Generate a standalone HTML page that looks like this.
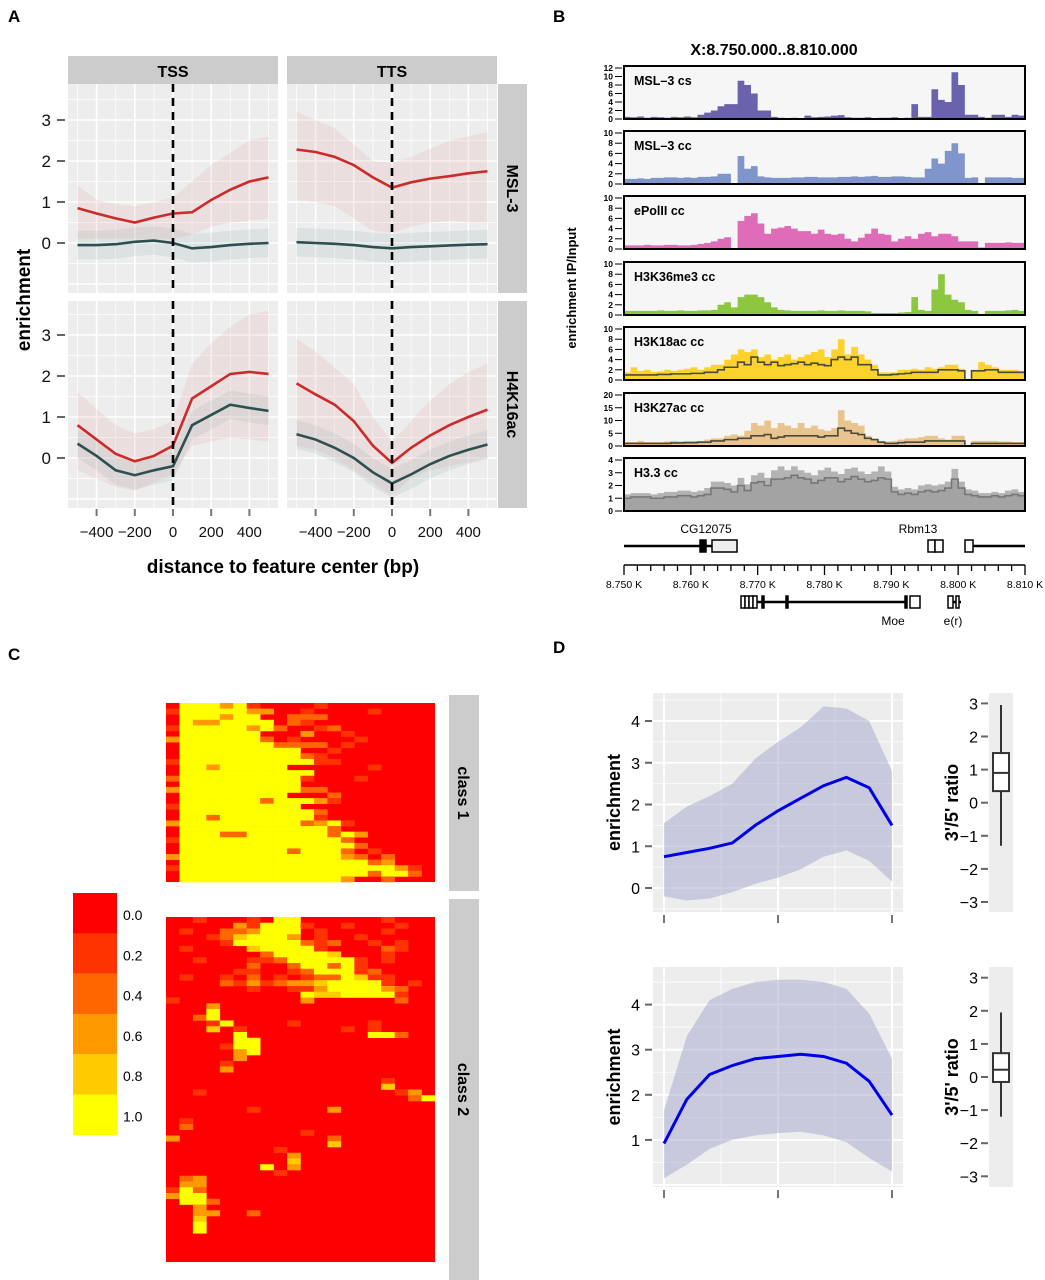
<!DOCTYPE html>
<html><head><meta charset="utf-8"><style>
html,body{margin:0;padding:0;background:#fff}
svg{display:block;font-family:"Liberation Sans",sans-serif}
</style></head><body>
<svg id="fig" xmlns="http://www.w3.org/2000/svg" width="1045" height="1280" viewBox="0 0 1045 1280">
<text x="8" y="22" font-size="17" font-weight="bold">A</text>
<text x="553" y="22" font-size="17" font-weight="bold">B</text>
<text x="8" y="660" font-size="17" font-weight="bold">C</text>
<text x="553" y="653" font-size="17" font-weight="bold">D</text>
</svg>
<script>
// ===== Panel A data (x = -500..500 step 100) =====
const aX=[-500,-400,-300,-200,-100,0,100,200,300,400,500];
const tssMslRed=[0.85,0.72,0.6,0.5,0.62,0.72,0.75,1.05,1.3,1.5,1.6];
const tssMslRedHi=[1.4,1.05,0.95,0.9,1.0,1.1,1.5,1.9,2.2,2.5,2.6];
const tssMslRedLo=[0.1,0.1,0.1,0.1,0.1,0.1,0.2,0.4,0.5,0.55,0.6];
const tssMslGreen=[-0.05,-0.05,-0.03,0.03,0.06,0,-0.13,-0.1,-0.05,-0.02,0];
const ttsMslRed=[2.28,2.22,2.1,1.9,1.6,1.35,1.48,1.57,1.63,1.7,1.75];
const ttsMslRedHi=[3.2,3.0,2.8,2.4,2.0,1.95,2.1,2.3,2.5,2.6,2.7];
const ttsMslRedLo=[1.05,1.0,0.9,0.6,0.3,0.25,0.4,0.5,0.55,0.5,0.5];
const ttsMslGreen=[0.02,0,-0.02,-0.05,-0.1,-0.13,-0.1,-0.08,-0.06,-0.04,-0.03];
const tssH4Red=[0.8,0.45,0.1,-0.08,0.05,0.3,1.45,1.75,2.05,2.1,2.05];
const tssH4RedHi=[1.6,1.2,0.8,0.6,0.7,0.9,2.3,2.8,3.2,3.5,3.6];
const tssH4RedLo=[-0.3,-0.5,-0.7,-0.8,-0.6,-0.4,0.3,0.4,0.5,0.45,0.4];
const tssH4Green=[0.35,0.05,-0.3,-0.42,-0.3,-0.2,0.8,1.05,1.3,1.22,1.15];
const ttsH4Red=[1.82,1.55,1.3,0.9,0.3,-0.12,0.25,0.55,0.8,1.0,1.18];
const ttsH4RedHi=[2.9,2.6,2.2,1.8,1.0,0.4,0.9,1.4,1.8,2.1,2.3];
const ttsH4RedLo=[0.3,0.2,0.0,-0.3,-0.6,-0.9,-0.5,-0.3,-0.2,-0.1,0];
const ttsH4Green=[0.58,0.45,0.25,0.0,-0.35,-0.62,-0.4,-0.15,0.05,0.2,0.33];
const aYTicks=[0,1,2,3];
const aXTicks=[-400,-200,0,200,400];
const aXTickLabels=["\u2212400","\u2212200","0","200","400"];

// ===== Panel B data (60 bins of 1 kb) =====
const bTrackNames=["MSL\u20133 cs","MSL\u20133 cc","ePolII cc","H3K36me3 cc","H3K18ac cc","H3K27ac cc","H3.3 cc"];
const bTrackMax=[12,10,10,10,10,20,4];
const bTrackTicks=[[0,2,4,6,8,10,12],[0,2,4,6,8,10],[0,2,4,6,8,10],[0,2,4,6,8,10],[0,2,4,6,8,10],[0,5,10,15,20],[0,1,2,3,4]];
const msl3cs=[0.5,0.4,0.6,0.3,0.5,0.4,0.3,0.5,0.4,0.6,0.4,1,1.5,2,3,3.5,3.5,9,8,6,2,2,0.5,0.3,0.2,0.3,0.2,0.8,0.4,0.5,0.6,0.8,0.9,0.4,0.3,0.3,0.4,0.2,0.3,0.3,0.4,0.2,0.3,3.5,0.5,0.5,7,4.5,4,11,8,1,1,0.5,0.3,1,1,0.5,1,0.8];
const msl3cc=[1,1,1.1,1,1.2,1.2,1.3,1.3,1.2,1.3,1.2,1.4,1.4,1.5,2,2,0,5.5,3,3.5,1.5,1.3,1.2,1.2,1.2,1.3,1.3,1.4,1.4,1.3,1.3,1.3,1.4,1.4,1.5,1.4,1.5,1.6,1.4,1.4,1.5,1.5,1.4,1.3,1.3,3,5,4,6.5,8,6,1.2,1.3,0,1.3,1.3,1.3,1.3,1.2,1.2];
const epol=[0.7,0.7,0.7,0.8,0.7,0.7,0.8,0.8,0.7,0.7,0.8,1,1.2,1.5,2,2.3,0,5.5,6.5,7,5,3,4,4.2,4.5,4,3.5,3.5,3,3.8,3,2.8,3,2,1.5,2.2,3,4,3,2.8,1.5,2,2.5,2,3,3.3,2.5,3,3,2.5,1.5,1.5,1.5,0.3,1.2,1.2,1.2,1.3,1.2,1.2];
const h3k36=[0.8,0.8,0.8,0.8,0.8,0.9,0.8,0.8,0.9,0.8,0.8,0.9,0.9,1,2,2.5,1.5,3.5,4,4,3.5,2.5,1.5,1,0.9,0.8,0.8,0.8,0.8,0.9,0.8,0.8,0.9,0.8,0.8,0.8,0.7,0.4,0.4,0.4,0.4,0.5,0.6,3.5,1,0.8,5,8,4,3,2.5,1,0.8,0,0.8,0.8,0.8,0.9,1,0.8];
const h3k18Peak=[1.5,2.5,1.8,2,1.6,1.7,2,1.8,2,2.2,2.5,2,2.5,3,3,4,5,6,5.5,6,4.5,5,4,4.5,5,4,4.5,5,5.5,6,4.5,6,8,5,6.5,5,4,3,1.5,1.5,1.5,2,2,2.2,2,2.5,2.2,2.5,3,3,2.2,0,2,3.5,3,2.5,2,2,2,1.8];
const h3k18Mean=[1,1,1,1,1,1.1,1.1,1.2,1.2,1.2,1.3,1.3,1.5,1.5,2,2.5,2.5,3.5,3,4.5,3.5,3,3.5,2.8,3,3.2,3.5,3,3.3,3,2.8,4,4.5,4,4.5,3,3,2,1,1,1.1,1.2,1.3,1.5,1.5,1.5,1.5,2,2,2,1.8,0,1.8,1.8,2,2,1.5,1.5,1.5,1.5];
const h3k27Peak=[1.5,1.5,2,1.5,1.5,1.5,1.8,2,1.8,2,2,2,2.5,3,3,4,4.5,4,6,9,8,10,7,9,8,7,9,7,8,6.5,6,7,14,10,9,8,4,3,2,1.8,2,2.5,3,3,3.5,4,4,3,2.5,4,4,0,2,2,2,2,1.8,1.8,1.5,1.5];
const h3k27Mean=[1,1,1,1,1,1,1,1.2,1.2,1.3,1.3,1.5,1.5,2,2,2.5,2.5,3,3,4,4,4.5,3,3.5,4,4,4,4,4,3.5,4,4,7,6,5,4.5,3,2.5,1.5,1,1,1.3,1.5,1.5,1.5,2,2,2,2,2,2,0,1,1,1,1,1,1,1,1];
const h33Peak=[1.3,1.4,1.4,1.4,1.3,1.4,1.5,1.5,1.6,1.6,1.5,1.6,1.8,2.3,2.3,2.2,2,2.6,2.1,2.8,3,2.6,3.2,3.5,3.2,3.5,3.2,3,2.8,3.2,3.4,3.1,2.9,3.3,3.4,3.1,2.9,3.1,3.5,3.1,1.9,1.7,1.8,1.7,2,2.1,2,2.1,2.3,3.3,2.3,1.7,1.6,1.4,1.4,1.5,1.4,1.6,1.7,1.5];
const h33Mean=[1,1.1,1.1,1.1,1,1,1.1,1.1,1.2,1.2,1.1,1.2,1.3,1.8,1.8,1.7,1.5,2,1.6,2.2,2.3,2,2.5,2.5,2.6,2.8,2.6,2.5,2.2,2.4,2.6,2.6,2.3,2.5,2.7,2.5,2.3,2.4,2.6,2.5,1.5,1.3,1.4,1.3,1.5,1.6,1.5,1.6,1.8,2.5,1.8,1.3,1.2,1.1,1.1,1.2,1.1,1.2,1.3,1.2];
const bAxisLabels=["8.750 K","8.760 K","8.770 K","8.780 K","8.790 K","8.800 K","8.810 K"];
const bAxisKb=[8750,8760,8770,8780,8790,8800,8810];

// ===== Panel C data (levels 0..5 => 0.0..1.0) =====
const legendLabels=["0.0","0.2","0.4","0.6","0.8","1.0"];
const class1Rows=[
"05553510000100000000","15555533001000010000","05553550022200000000","05335555021000000000",
"15555535200120000000","05555550003001000000","35555552010000100000","05555555222201000000",
"05555555550010000000","05555555552100000000","15555555555110000000","05535555500000010000",
"05555555555000000000","25555555551000100000","05555555550000000000",
"35555555552200000000","05555555500020000000","05555552555310000000","15555555550000000000",
"05555555555200000000","05525555555100000000","35555555552351000000","05555555555520000000",
"05552255555525300000","15555555555552000000","05555555555555200000","05555555525552010000",
"35555555555553202000","05555555555555523000","15555555555555555310","05555555555555525520",
"05555555555553002000"];
const class2Rows=[
"00100010550000001000","00000315551001000100","01002235550100001000","00012455530100100000",
"00001555552120010100","01000045555100002100","00000002555540001000","00100011255555101000",
"00000020025525100000","00000110012555120000","01001020101225411000","00002131233455551010",
"00000010011355553200","00000000005445555100","10000000003000000200","00030000000000000000",
"00050000000000000000","00250000000000000000","00015000010000010000","00040100000001010000",
"00000500000000055200","00000550000000000000","00001550000000000000","00000350000000000000",
"00000300000000000000","00001000000000000000","00003000000000000000","00000000000000000000",
"00000000000000001000","00000000000000004000","00100000000000000130","00000000000000000025",
"00000000000000000000","00000010000030000000","00000000000000000000","01000000000000000000",
"02000000000000000000","00000000001000000000","30000000000020000000","00000000000040000000",
"00000000100000000000","00000000030000000000","00000000040000000000","00000005030000000000",
"00000000100000000000","02300000000000000000","03300000000000000000","15200000000000000000",
"35500000000000000000","05520000000000000000","00300000000000000000","00330020000000000000",
"00400000000000000000","00500000000000000000","00500000000000000000","00000000000000000000",
"00000000000000000000","00000000000000000000","00000000000000000000","00000000000000000000"];

// ===== Panel D data (t = 0..1 step 0.1) =====
const dT=[0,0.1,0.2,0.3,0.4,0.5,0.6,0.7,0.8,0.9,1];
const d1Mean=[0.75,0.85,0.95,1.08,1.5,1.85,2.15,2.45,2.65,2.4,1.5];
const d1Hi=[1.55,1.95,2.2,2.5,3.1,3.5,3.85,4.35,4.3,4.0,2.8];
const d1Lo=[-0.2,-0.3,-0.25,-0.1,0.1,0.25,0.45,0.75,0.9,0.65,0.15];
const d2Mean=[0.92,1.9,2.45,2.65,2.8,2.85,2.9,2.85,2.7,2.3,1.55];
const d2Hi=[1.65,3.3,4.1,4.35,4.5,4.55,4.55,4.5,4.35,3.8,2.8];
const d2Lo=[0.15,0.45,0.8,1.0,1.1,1.15,1.18,1.1,0.95,0.6,0.3];
const box1=[-1.3,0.35,0.9,1.5,2.95];
const box2=[-1.2,-0.15,0.22,0.72,1.95];
const d1YTicks=[0,1,2,3,4];
const d2YTicks=[1,2,3,4];
const boxTicks=[-3,-2,-1,0,1,2,3];
const boxTickLabels=["\u22123","\u22122","\u22121","0","1","2","3"];

const NS='http://www.w3.org/2000/svg';
const svg=document.getElementById('fig');
function mk(tag,attrs,parent){const e=document.createElementNS(NS,tag);for(const k in attrs)e.setAttribute(k,attrs[k]);(parent||svg).appendChild(e);return e;}
function txt(s,attrs){const e=mk('text',attrs);e.textContent=s;return e;}
let el;

// ===== PANEL A =====
function facet(x0,y0,w,h,cx,zy,red,redHi,redLo,green,name,showY,showX){
  const xs=bp=>cx+bp*0.191, ys=v=>zy-v*41;
  el=mk('rect',{x:x0,y:y0,width:w,height:h,fill:'#ededed'});
  
  
  for(let b=-500;b<=500;b+=100){
    el=mk('line',{x1:xs(b),x2:xs(b),y1:y0,y2:y0+h,stroke:'#fff','stroke-width':(b%200===0)?1.6:0.7});
    
    
  }
  for(let v=-1;v<=3.5;v+=0.5){
    const y=ys(v); if(y<y0||y>y0+h) continue;
    el=mk('line',{x1:x0,x2:x0+w,y1:y,y2:y,stroke:'#fff','stroke-width':(v%1===0)?1.6:0.7});
    
    
  }
  const band=(hi,lo)=>{let d='';aX.forEach((b,i)=>d+=(i?'L':'M')+xs(b)+','+ys(hi[i]));for(let i=aX.length-1;i>=0;i--)d+='L'+xs(aX[i])+','+ys(lo[i]);return d+'Z';};
  const gHi=green.map(v=>v+0.35), gLo=green.map(v=>v-0.35);
  el=mk('path',{d:band(gHi,gLo),fill:'rgba(120,160,160,0.14)'});
  
  
  el=mk('path',{d:band(redHi,redLo),fill:'rgba(220,150,150,0.17)'});
  
  
  const line=arr=>aX.map((b,i)=>(i?'L':'M')+xs(b)+','+ys(arr[i])).join('');
  el=mk('path',{d:line(green),fill:'none',stroke:'#2e4f4f','stroke-width':2.6});
  
  
  el=mk('path',{d:line(red),fill:'none',stroke:'#cc2b2b','stroke-width':2.6});
  
  
  el=mk('line',{x1:cx,x2:cx,y1:y0,y2:y0+h,stroke:'#000','stroke-width':2.6,'stroke-dasharray':'8,6'});
  
  
  if(showY){aYTicks.forEach(v=>{
    el=mk('line',{x1:57,x2:65,y1:ys(v),y2:ys(v),stroke:'#666','stroke-width':2});
    
    
    el=txt(String(v),{x:51,y:ys(v)+6,'font-size':17,'text-anchor':'end',fill:'#111'});
    
    
  });}
  if(showX){aXTicks.forEach((b,i)=>{
    el=mk('line',{x1:xs(b),x2:xs(b),y1:y0+h+1,y2:y0+h+8,stroke:'#777','stroke-width':2});
    
    
    el=txt(aXTickLabels[i],{x:xs(b),y:y0+h+29,'font-size':15,'text-anchor':'middle',fill:'#111'});
    
    
  });}
}
facet(68,84,210,209,173,243,tssMslRed,tssMslRedHi,tssMslRedLo,tssMslGreen,'tss-msl3',true,false);
facet(287,84,210,209,392,243,ttsMslRed,ttsMslRedHi,ttsMslRedLo,ttsMslGreen,'tts-msl3',false,false);
facet(68,301,210,207,173,458,tssH4Red,tssH4RedHi,tssH4RedLo,tssH4Green,'tss-h4k16ac',true,true);
facet(287,301,210,207,392,458,ttsH4Red,ttsH4RedHi,ttsH4RedLo,ttsH4Green,'tts-h4k16ac',false,true);
[[68,'TSS'],[287,'TTS']].forEach(([x,t])=>{
  el=mk('rect',{x:x,y:56,width:210,height:28,fill:'#cccccc'});
  
  
  el=txt(t,{x:x+105,y:77,'font-size':16,'font-weight':'bold','text-anchor':'middle'});
  
  
});
[[84,209,'MSL-3'],[301,207,'H4K16ac']].forEach(([y,h,t])=>{
  el=mk('rect',{x:498,y:y,width:29,height:h,fill:'#cccccc'});
  
  
  el=txt(t,{x:0,y:0,'font-size':16,'font-weight':'bold','text-anchor':'middle',transform:`translate(507,${y+h/2}) rotate(90)`});
  
  
});
el=txt('enrichment',{x:0,y:0,'font-size':19,'font-weight':'bold','text-anchor':'middle',transform:'translate(30,300) rotate(-90)'});


el=txt('distance to feature center (bp)',{x:283,y:573,'font-size':19,'font-weight':'bold','text-anchor':'middle'});



// ===== PANEL B =====
el=txt('X:8.750.000..8.810.000',{x:774,y:55,'font-size':16,'font-weight':'bold','text-anchor':'middle'});


el=txt('enrichment IP/Input',{x:0,y:0,'font-size':13,'font-weight':'bold','text-anchor':'middle',transform:'translate(576,288) rotate(-90)'});


const trackData=[[msl3cs,null],[msl3cc,null],[epol,null],[h3k36,null],[h3k18Peak,h3k18Mean],[h3k27Peak,h3k27Mean],[h33Peak,h33Mean]];
const trackFill=['#6a62ad','#7f95cc','#df6cb8','#8dc63f','#fdd22a','#eac48e','#b3b3b3'];
const trackTops=[66,131,196,262,327,393,458];
const TX0=624,TW=401,TH=53;
trackData.forEach(([main,mean],k)=>{
  const top=trackTops[k], max=bTrackMax[k];
  const ys=v=>top+TH-Math.min(v,max)/max*(TH-2);
  const bw=TW/main.length, xs=i=>TX0+i*bw;
  el=mk('rect',{x:TX0,y:top,width:TW,height:TH,fill:'#f6f6f6'});
  
  
  let d='M'+TX0+','+(top+TH);
  main.forEach((v,i)=>{d+='L'+xs(i)+','+ys(v)+'L'+xs(i+1)+','+ys(v);});
  d+='L'+(TX0+TW)+','+(top+TH)+'Z';
  el=mk('path',{d:d,fill:trackFill[k]});
  
  
  if(mean){
    let d2='';
    mean.forEach((v,i)=>{d2+=(i?'L':'M')+xs(i)+','+ys(v)+'L'+xs(i+1)+','+ys(v);});
    if(k===6){
      el=mk('path',{d:'M'+TX0+','+(top+TH)+d2.replace(/^M/,'L')+'L'+(TX0+TW)+','+(top+TH)+'Z',fill:'#a3a3a3'});
      
      
    }
    el=mk('path',{d:d2,fill:'none',stroke:k===6?'#777':'#4a4a3a','stroke-width':1.6});
    
    
  }
  el=mk('rect',{x:TX0,y:top,width:TW,height:TH,fill:'none',stroke:'#000','stroke-width':2});
  
  
  el=txt(bTrackNames[k],{x:TX0+10,y:top+19,'font-size':12.5,'font-weight':'bold'});
  
  
  bTrackTicks[k].forEach(v=>{
    el=mk('line',{x1:615,x2:622,y1:ys(v),y2:ys(v),stroke:'#000','stroke-width':1});
    
    
    el=txt(String(v),{x:613,y:ys(v)+3,'font-size':8.5,'font-weight':'bold','text-anchor':'end'});
    
    
  });
});
// gene models
const kx=kb=>TX0+(kb-8750)*TW/60;
function gline(x1,x2,y,name){el=mk('line',{x1:x1,x2:x2,y1:y,y2:y,stroke:'#000','stroke-width':2.5});}
function gbox(x1,x2,y,fill,name){el=mk('rect',{x:x1,y:y-6,width:x2-x1,height:12,fill:fill,stroke:'#000','stroke-width':1.5});}
gline(624,737,546,'cg12075-intron');
gbox(700,706,546,'#000','cg12075-exon');
gbox(712,737,546,'#eee','cg12075-utr');
gline(965,1025,546,'rbm13-intron');
gbox(928,935,546,'#fff','rbm13-exon');
gbox(935,943,546,'#fff','rbm13-exon');
gbox(965,973,546,'#fff','rbm13-exon');
el=txt('CG12075',{x:706,y:533,'font-size':12,'text-anchor':'middle'});


el=txt('Rbm13',{x:918,y:533,'font-size':12,'text-anchor':'middle'});


el=mk('line',{x1:624,x2:1025,y1:565,y2:565,stroke:'#000','stroke-width':1.5});


for(let kb=8750;kb<=8810;kb+=2){
  el=mk('line',{x1:kx(kb),x2:kx(kb),y1:565,y2:kb%10===0?575:571,stroke:'#000','stroke-width':1.3});
  
  
}
bAxisKb.forEach((kb,i)=>{
  el=txt(bAxisLabels[i],{x:kx(kb),y:588,'font-size':10.5,'text-anchor':'middle'});
  
  
});
gline(757,907,602,'moe-intron');
gbox(741,745,602,'#fff','moe-exon');gbox(745,749,602,'#fff','moe-exon');gbox(749,753,602,'#fff','moe-exon');gbox(753,757,602,'#fff','moe-exon');
gbox(762,764,602,'#000','moe-exon');gbox(786,788,602,'#000','moe-exon');gbox(905,907,602,'#000','moe-exon');
gbox(910,920,602,'#fff','moe-exon');
gline(948,961,602,'er-intron');
gbox(948,953,602,'#fff','er-exon');gbox(956,959,602,'#fff','er-exon');
el=txt('Moe',{x:893,y:625,'font-size':12,'text-anchor':'middle'});


el=txt('e(r)',{x:953,y:625,'font-size':12,'text-anchor':'middle'});



// ===== PANEL C =====
const pal=['#ff0000','#ff3300','#ff6600','#ff9900','#ffcc00','#ffff00'];
function heat(rows,y0,y1,name){
  const cols=rows[0].length, cw=(435-166)/cols, rh=(y1-y0)/rows.length;
  el=mk('rect',{x:166,y:y0,width:269,height:y1-y0,fill:pal[0]});
  
  
  rows.forEach((r,ri)=>{for(let c=0;c<cols;c++){const v=+r[c];if(!v)continue;
    el=mk('rect',{x:166+c*cw,y:y0+ri*rh,width:cw+0.3,height:rh+0.3,fill:pal[v]});
    
    }});
}
heat(class1Rows,703,882,'class1');
heat(class2Rows,917,1262,'class2');
[[695,196,'class 1'],[899,381,'class 2']].forEach(([y,h,t])=>{
  el=mk('rect',{x:449,y:y,width:30,height:h,fill:'#cccccc'});
  
  
  el=txt(t,{x:0,y:0,'font-size':16,'font-weight':'bold','text-anchor':'middle',transform:`translate(458,${y+h/2}) rotate(90)`});
  
  
});
legendLabels.forEach((l,i)=>{
  el=mk('rect',{x:73,y:893+i*40.3,width:44,height:40.5,fill:pal[i]});
  
  
  el=txt(l,{x:123,y:920+i*40.3,'font-size':14});
  
  
});

// ===== PANEL D =====
function dPanel(y0,y1,zy,unit,mean,hi,lo,yt,bx,bzero,name){
  const xs=t=>664+t*228, ys=v=>zy-v*unit;
  el=mk('rect',{x:653,y:y0,width:250,height:y1-y0,fill:'#ededed'});
  
  
  [0,0.25,0.5,0.75,1].forEach(t=>{
    el=mk('line',{x1:xs(t),x2:xs(t),y1:y0,y2:y1,stroke:'#fff','stroke-width':(t*2)%1===0?1.8:0.8});
    
    
  });
  for(let v=-0.5;v<=5;v+=0.5){const y=ys(v);if(y<y0||y>y1)continue;
    el=mk('line',{x1:653,x2:903,y1:y,y2:y,stroke:'#fff','stroke-width':v%1===0?1.8:0.8});
    
    }
  let d='';dT.forEach((t,i)=>d+=(i?'L':'M')+xs(t)+','+ys(hi[i]));
  for(let i=dT.length-1;i>=0;i--)d+='L'+xs(dT[i])+','+ys(lo[i]);
  el=mk('path',{d:d+'Z',fill:'rgba(165,165,205,0.5)'});
  
  
  el=mk('path',{d:dT.map((t,i)=>(i?'L':'M')+xs(t)+','+ys(mean[i])).join(''),fill:'none',stroke:'#0000e6','stroke-width':3});
  
  
  yt.forEach(v=>{
    el=mk('line',{x1:645,x2:652,y1:ys(v),y2:ys(v),stroke:'#666','stroke-width':2});
    
    
    el=txt(String(v),{x:640,y:ys(v)+6,'font-size':16,'text-anchor':'end'});
    
    
  });
  [0,0.5,1].forEach(t=>{
    el=mk('line',{x1:xs(t),x2:xs(t),y1:y1+3,y2:y1+11,stroke:'#777','stroke-width':2});
    
    
  });
  el=txt('enrichment',{x:0,y:0,'font-size':18,'font-weight':'bold','text-anchor':'middle',transform:`translate(620,${(y0+y1)/2}) rotate(-90)`});
  
  
  const bs=v=>bzero-v*33.1;
  el=mk('rect',{x:989,y:y0,width:24,height:y1-y0,fill:'#ededed'});
  
  
  boxTicks.forEach((v,i)=>{
    el=mk('line',{x1:981,x2:988,y1:bs(v),y2:bs(v),stroke:'#666','stroke-width':2});
    
    
    el=txt(boxTickLabels[i],{x:978,y:bs(v)+6,'font-size':16,'text-anchor':'end'});
    
    
  });
  el=mk('line',{x1:1001,x2:1001,y1:bs(bx[4]),y2:bs(bx[0]),stroke:'#333','stroke-width':2});
  
  
  el=mk('rect',{x:993,y:bs(bx[3]),width:16,height:bs(bx[1])-bs(bx[3]),fill:'#fff',stroke:'#333','stroke-width':2});
  
  
  el=mk('line',{x1:993,x2:1009,y1:bs(bx[2]),y2:bs(bx[2]),stroke:'#333','stroke-width':2});
  
  
  el=txt("3'/5' ratio",{x:0,y:0,'font-size':18,'font-weight':'bold','text-anchor':'middle',transform:`translate(958,${(y0+y1)/2}) rotate(-90)`});
  
  
}
dPanel(693,912,888,41.75,d1Mean,d1Hi,d1Lo,d1YTicks,box1,802.7,'class1-profile');
dPanel(967,1187,1185,45.1,d2Mean,d2Hi,d2Lo,d2YTicks,box2,1077,'class2-profile');
</script>
</body></html>
